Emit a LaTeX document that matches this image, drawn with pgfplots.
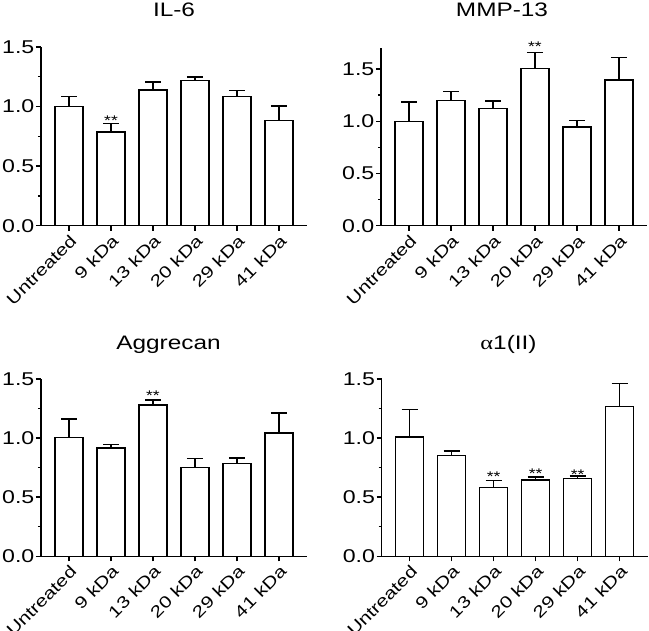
\documentclass[border=0pt]{standalone}
\usepackage{pgfplots}
\pgfplotsset{compat=1.18}
\usepackage{fontspec}
\setmainfont{Liberation Sans}[FakeStretch=1.25]
\newfontfamily\serifalpha{Liberation Serif}[FakeStretch=1.25]

\pgfplotsset{
  panel/.style={
    scale only axis, width=266pt,
    xmin=-0.667, xmax=5.667, ymin=0,
    axis x line*=bottom, axis y line*=left,
    axis line style={line width=1.4pt, -},
    major tick style={black, line width=1.4pt},
    minor tick style={black, line width=1.4pt},
    major tick length=5pt, minor tick length=3pt,
    tick align=outside,
    xtick={0,...,5},
    xticklabels={Untreated, 9 kDa, 13 kDa, 20 kDa, 29 kDa, 41 kDa},
    xticklabel style={rotate=45, anchor=north east, inner sep=2pt, font=\fontsize{16.5}{16.5}\selectfont},
    ytick={0,0.5,1,1.5},
    minor ytick={0.25,0.75,1.25},
    yticklabel style={inner sep=1.5pt, font=\fontsize{18.5}{18.5}\selectfont, /pgf/number format/.cd, fixed, fixed zerofill, precision=1, assume math mode=true},
    clip=false,
  },
  bars/.style={ybar, bar width=28pt, draw=black, fill=white, line width=1.4pt,
    error bars/.cd, y dir=plus, y explicit,
    error bar style={line width=1.4pt, black},
    error mark options={rotate=90, line width=1.4pt, mark size=8pt, black}},
}
\tikzset{stars/.style={font=\fontsize{14}{14}\selectfont, inner sep=0pt, yshift=-3pt},
  ttl/.style={anchor=base, font=\fontsize{19.5}{19.5}\selectfont}}

\begin{document}
\begin{tikzpicture}
\useasboundingbox (0,0) rectangle (649pt,631pt);

% IL-6
\begin{axis}[panel, at={(41pt,405.3pt)}, anchor=south west, height=178.7pt, ymax=1.5]
\addplot[bars] coordinates {(0,1.0) +- (0,0.085) (1,0.785) +- (0,0.075) (2,1.14) +- (0,0.065) (3,1.22) +- (0,0.028) (4,1.082) +- (0,0.053) (5,0.883) +- (0,0.123)};
\node[stars] at (axis cs:1,0.91) {**};
\end{axis}

% MMP-13
\begin{axis}[panel, at={(381pt,405.3pt)}, anchor=south west, height=177.5pt, ymax=1.7]
\addplot[bars] coordinates {(0,1.0) +- (0,0.185) (1,1.2) +- (0,0.086) (2,1.124) +- (0,0.07) (3,1.503) +- (0,0.157) (4,0.945) +- (0,0.06) (5,1.395) +- (0,0.217)};
\node[stars] at (axis cs:3,1.74) {**};
\end{axis}

% Aggrecan
\begin{axis}[panel, at={(41pt,74.7pt)}, anchor=south west, height=177.3pt, ymax=1.5]
\addplot[bars] coordinates {(0,1.004) +- (0,0.158) (1,0.916) +- (0,0.028) (2,1.28) +- (0,0.042) (3,0.75) +- (0,0.076) (4,0.787) +- (0,0.045) (5,1.043) +- (0,0.169)};
\node[stars] at (axis cs:2,1.387) {**};
\end{axis}

% alpha1(II)
\begin{axis}[panel, at={(381.7pt,74.7pt)}, anchor=south west, height=177.3pt, ymax=1.5]
\addplot[bars] coordinates {(0,1.009) +- (0,0.231) (1,0.851) +- (0,0.04) (2,0.584) +- (0,0.056) (3,0.646) +- (0,0.025) (4,0.657) +- (0,0.022) (5,1.269) +- (0,0.191)};
\node[stars] at (axis cs:2,0.696) {**};
\node[stars] at (axis cs:3,0.722) {**};
\node[stars] at (axis cs:4,0.716) {**};
\end{axis}

\node[ttl] at (174pt,614pt) {IL-6};
\node[ttl] at (502pt,614pt) {MMP-13};
\node[ttl] at (168.5pt,281pt) {Aggrecan};
\node[ttl] at (508.5pt,281pt) {{\serifalpha α}1(II)};
\end{tikzpicture}
\end{document}
